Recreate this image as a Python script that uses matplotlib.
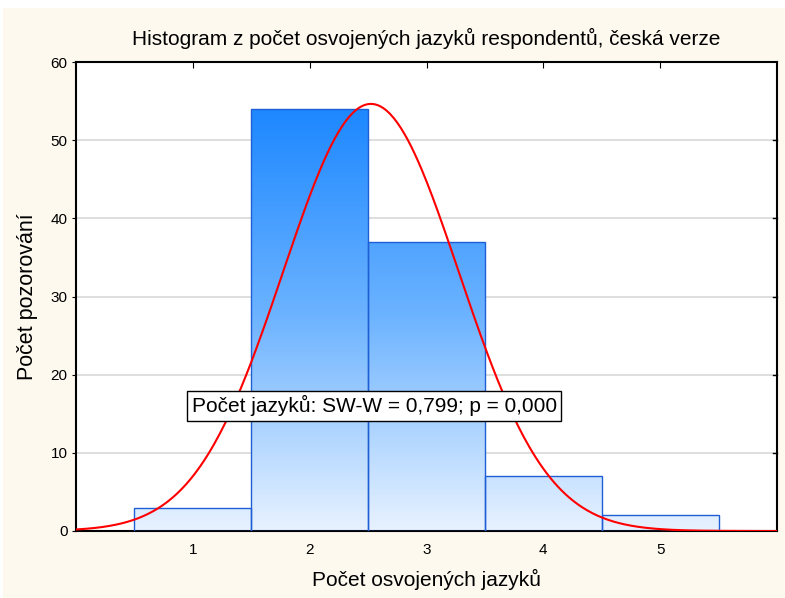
import numpy as np
import matplotlib.pyplot as plt
from matplotlib.colors import LinearSegmentedColormap
from matplotlib.patches import Rectangle

# data
jazyky = [1, 2, 3, 4, 5]
pocty = [3, 54, 37, 7, 2]
title = "Histogram z počet osvojených jazyků respondentů, česká verze"
xlabel = "Počet osvojených jazyků"
ylabel = "Počet pozorování"
note = "Počet jazyků: SW-W = 0,799; p = 0,000"

plt.rcParams['font.family'] = ['Liberation Sans', 'DejaVu Sans']

fig = plt.figure(figsize=(7.85, 5.98), dpi=100)
fig.patch.set_facecolor('white')
fig.patches.append(Rectangle((3 / 785, 0), 1, 1 - 8 / 598, transform=fig.transFigure,
                             facecolor='#fdf9ef', edgecolor='none', zorder=-10))
ax = fig.add_axes([76 / 785, 67 / 598, 701 / 785, 469 / 598])
ax.set_facecolor('white')

# normal curve fitted to the counts
x = np.repeat(jazyky, pocty)
n = len(x)
mu = x.mean()
sd = x.std(ddof=1)
xs = np.linspace(0, 6, 400)
ys = n * np.exp(-0.5 * ((xs - mu) / sd) ** 2) / (np.sqrt(2 * np.pi) * sd)

cmap = LinearSegmentedColormap.from_list('modra', ['#e8f2ff', '#6cb3ff', '#1a86ff'])
grad = np.linspace(0, 1, 256).reshape(-1, 1)

for xi, c in zip(jazyky, pocty):
    bar = ax.bar(xi, c, width=1, facecolor='none', edgecolor='#1f5fd6', linewidth=1, zorder=3)[0]
    im = ax.imshow(grad, cmap=cmap, aspect='auto', origin='lower',
                   extent=[0, 6, 0, 55], vmin=0, vmax=1, zorder=2)
    im.set_clip_path(bar)

ax.plot(xs, ys, color='#ff0000', linewidth=1.5, zorder=4)

ax.set_xlim(0, 6)
ax.set_ylim(0, 60)
ax.set_xticks(jazyky)
ax.set_yticks(range(0, 61, 10))
ax.yaxis.grid(True, color='#d8d8d8', linewidth=1.2, zorder=0)
ax.set_axisbelow(True)
ax.tick_params(axis='x', direction='in', top=True, length=4, labelsize=11, pad=9)
ax.tick_params(axis='y', direction='out', right=False, length=3, labelsize=11, pad=3)
for yt in range(10, 60, 10):
    ax.plot([6, 5.97], [yt, yt], color='black', linewidth=1, clip_on=False, zorder=5)
for sp in ax.spines.values():
    sp.set_linewidth(1.5)

ax.set_title(title, fontsize=15, pad=12)
ax.set_xlabel(xlabel, fontsize=15, labelpad=8)
ax.set_ylabel(ylabel, fontsize=15.5, labelpad=9)

ax.text(0.99, 16, note, fontsize=15, va='center', ha='left', zorder=6,
        bbox=dict(boxstyle='square,pad=0.2', facecolor='white', edgecolor='black', linewidth=1))

fig.savefig('out.png', dpi=100)
